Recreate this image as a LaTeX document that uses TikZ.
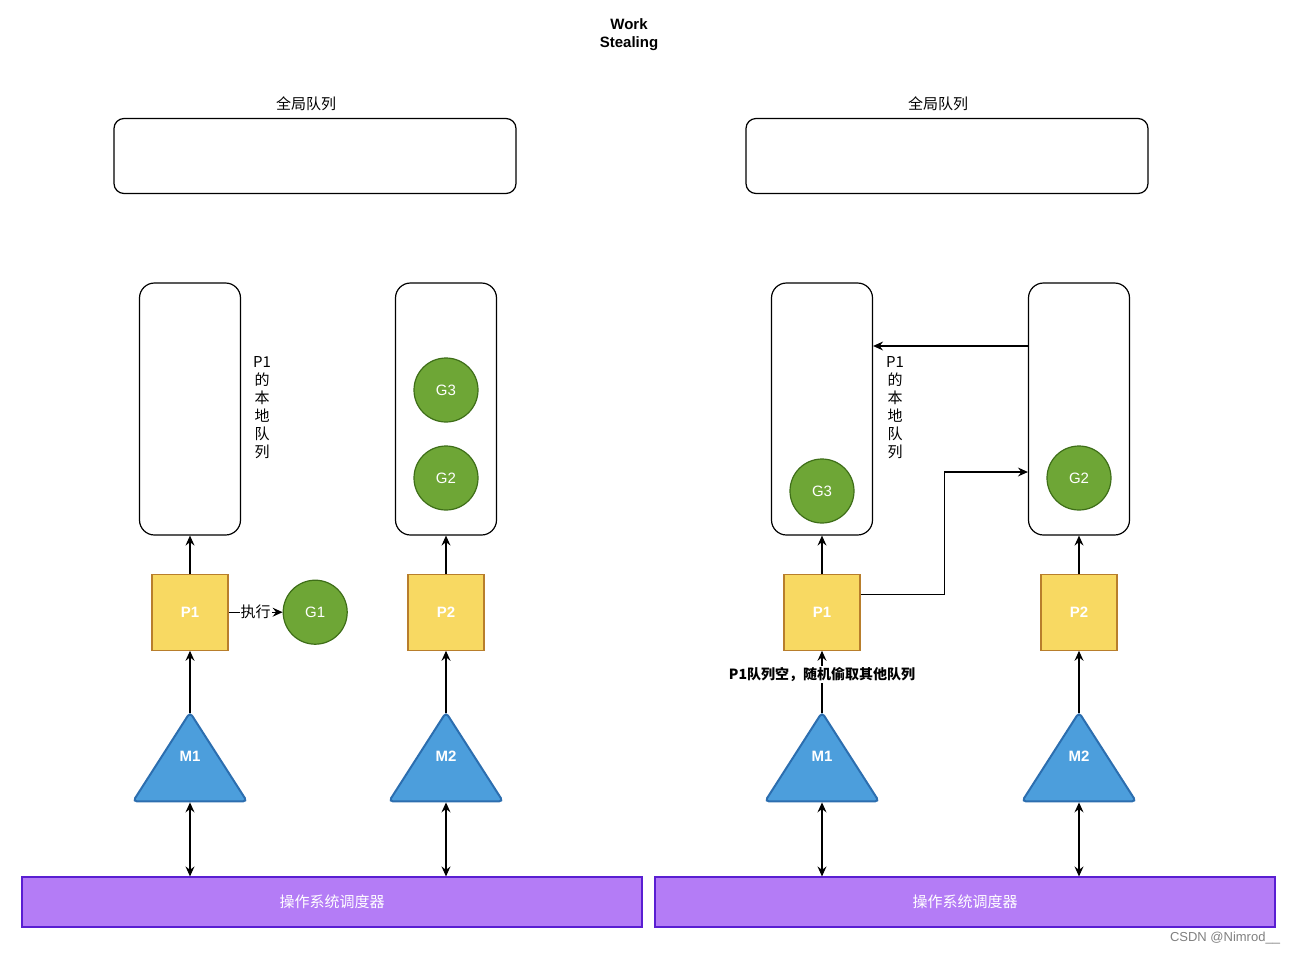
\documentclass[tikz,border=0pt]{standalone}
\usepackage{fontspec}
\setmainfont{Liberation Sans}
\newfontfamily\cjk{Noto Sans CJK SC}
\usepackage{xcolor}
\usepackage{tikz}
\usetikzlibrary{arrows.meta}
\usetikzlibrary{shapes.geometric}
\usetikzlibrary{positioning}
\definecolor{pfill}{RGB}{248,217,98}
\definecolor{pborder}{RGB}{184,126,44}
\definecolor{gfill}{RGB}{110,166,54}
\definecolor{gborder}{RGB}{62,110,24}
\definecolor{mfill}{RGB}{76,158,220}
\definecolor{mborder}{RGB}{44,110,175}
\definecolor{sfill}{RGB}{180,124,246}
\definecolor{sborder}{RGB}{90,30,210}
\tikzset{
  >={Stealth[length=10pt,width=9pt,inset=3.5pt]},
  line/.style={draw, ->},
  dline/.style={draw, <->}
}

\begin{document}
\begin{tikzpicture}[x=1pt, y=-1pt, node distance=38pt, line width=1.2pt, font=\fontsize{15}{18}\selectfont]
    \useasboundingbox (0,0) rectangle (1294,954);
    % Define styles
    \tikzstyle{globalq} = [draw, rectangle, rounded corners=10pt, minimum width=402pt, minimum height=75pt]
    \tikzstyle{localq} = [draw, rectangle, rounded corners=15pt, minimum width=101pt, minimum height=252pt]
    \tikzstyle{proc} = [draw=pborder, fill=pfill, rectangle, minimum size=76pt, text=white, font=\fontsize{15}{18}\selectfont\bfseries]
    \tikzstyle{gor} = [draw=gborder, fill=gfill, circle, minimum size=64pt, inner sep=0pt, text=white]
    \tikzstyle{mach} = [draw=mborder, fill=mfill, line width=2pt, isosceles triangle, isosceles triangle stretches, shape border rotate=90, minimum width=114pt, minimum height=89pt, inner sep=0pt, rounded corners=4pt]
    \tikzstyle{mtext} = [text=white, yshift=14pt, font=\fontsize{15}{18}\selectfont\bfseries]
    \tikzstyle{sched} = [draw=sborder, fill=sfill, rectangle, minimum width=620pt, minimum height=50pt, text=white, font=\cjk\fontsize{15}{18}\selectfont]
    \tikzstyle{cjktext} = [font=\cjk\fontsize{15}{18}\selectfont]

    % Title
    \node [align=center, font=\fontsize{15}{18}\selectfont\bfseries] (title) at (629,35) {Work\\Stealing};

    % Left: before stealing
    \node [globalq] (gq1) at (315,156) {};
    \node [cjktext] (gqlabel1) at (306,104) {全局队列};
    \node [localq] (lq1) at (190,409) {};
    \node [localq] (lq2) at (446,409) {};
    \node [cjktext, align=center] (lqlabel1) at (262,408) {P1\\的\\本\\地\\队\\列};
    \node [gor] (g3) at (446,390) {G3};
    \node [gor] (g2) at (446,478) {G2};
    \node [proc, below=of lq1] (p1) {P1};
    \node [proc, below=of lq2] (p2) {P2};
    \node [gor, right=54pt of p1] (g1) {G1};
    \node [mach, below=59pt of p1, label={[mtext]center:M1}] (m1) {};
    \node [mach, below=59pt of p2, label={[mtext]center:M2}] (m2) {};
    \node [sched] (s1) at (332,902) {操作系统调度器};

    % Right: P1 steals from P2
    \node [globalq] (gq2) at (947,156) {};
    \node [cjktext] (gqlabel2) at (938,104) {全局队列};
    \node [localq] (lq3) at (822,409) {};
    \node [localq] (lq4) at (1079,409) {};
    \node [cjktext, align=center] (lqlabel2) at (895,408) {P1\\的\\本\\地\\队\\列};
    \node [gor] (g3r) at (822,491) {G3};
    \node [gor] (g2r) at (1079,478) {G2};
    \node [proc, below=of lq3] (p3) {P1};
    \node [proc, below=of lq4] (p4) {P2};
    \node [mach, below=59pt of p3, label={[mtext]center:M1}] (m3) {};
    \node [mach, below=59pt of p4, label={[mtext]center:M2}] (m4) {};
    \node [sched] (s2) at (965,902) {操作系统调度器};

    \node [text=gray, font=\fontsize{13}{15}\selectfont] (mark) at (1225,938) {CSDN @Nimrod\_\_};

    % Draw edges
    \path [line] (p1) -- (lq1);
    \path [line] (p2) -- (lq2);
    \path [line] (p1) -- node [cjktext, fill=white, inner sep=1pt] {执行} (g1);
    \path [line, shorten <=-3pt] (m1.apex) -- (p1.south);
    \path [line, shorten <=-3pt] (m2.apex) -- (p2.south);
    \path [dline] (m1.south) -- (m1.south |- s1.north);
    \path [dline] (m2.south) -- (m2.south |- s1.north);

    \path [line] (p3) -- (lq3);
    \path [line] (p4) -- (lq4);
    \path [line, shorten <=-3pt] (m3.apex) -- node [pos=0.6, font=\cjk\fontsize{14}{18}\selectfont\bfseries, fill=white, inner sep=1pt] {P1队列空，随机偷取其他队列} (p3.south);
    \path [line, shorten <=-3pt] (m4.apex) -- (p4.south);
    \path [dline] (m3.south) -- (m3.south |- s2.north);
    \path [dline] (m4.south) -- (m4.south |- s2.north);
    \path [line] ([yshift=63pt]lq4.west) -- ([yshift=63pt]lq3.east);
    \path [line] ([yshift=18pt]p3.east) -- ++(84,0) |- ([yshift=-63pt]lq4.west);
\end{tikzpicture}
\end{document}
